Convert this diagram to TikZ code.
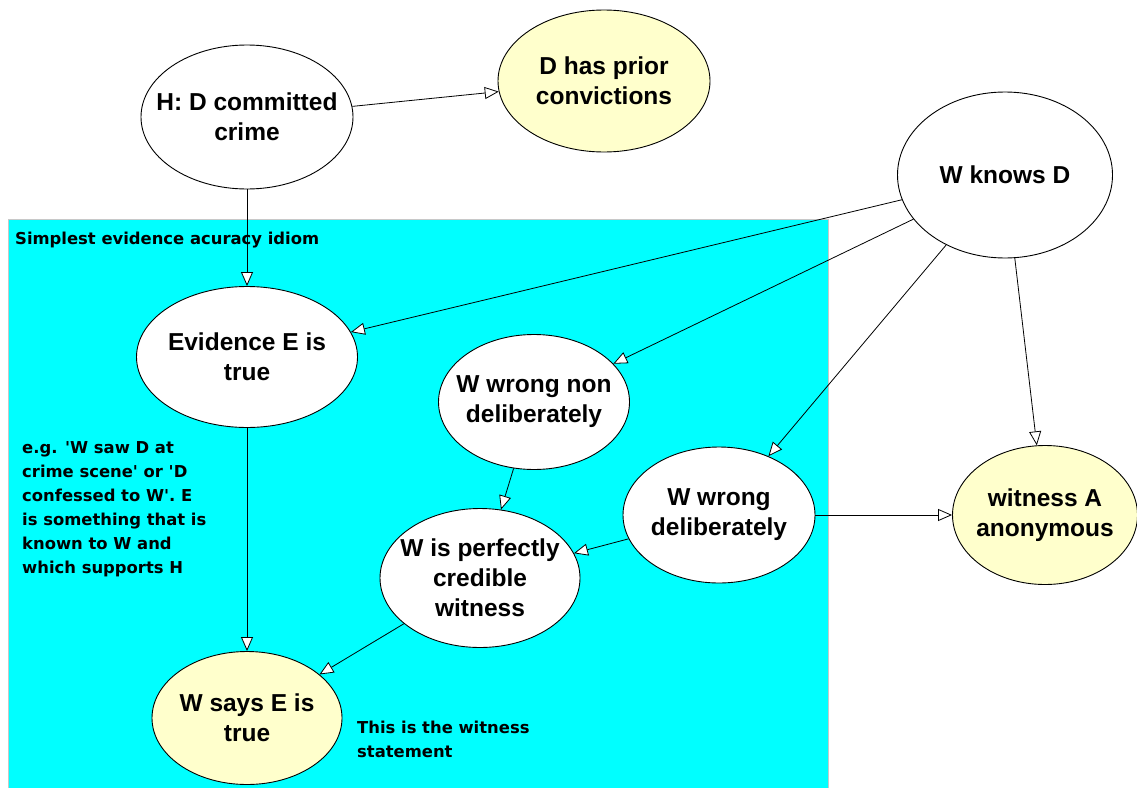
\documentclass[tikz,border=0pt]{standalone}
\usepackage{fontspec}
\setmainfont{Liberation Sans}
\newfontfamily\notefont{DejaVu Sans}[Ligatures=TeXOff]
\usetikzlibrary{shapes.geometric,arrows.meta}
\definecolor{idiombg}{HTML}{00FFFF}
\definecolor{obsfill}{HTML}{FFFFCC}
\definecolor{frameline}{HTML}{C8C8C8}

\begin{document}
\begin{tikzpicture}[x=1pt,y=-1pt,
  bn/.style={ellipse, draw=black, line width=0.9pt, fill=white, inner sep=0pt},
  obs/.style={bn, fill=obsfill},
  lbl/.style={align=center, font=\fontsize{24.5}{30}\selectfont\bfseries, inner sep=0pt},
  note/.style={align=left, font=\notefont\fontsize{16.4}{24}\selectfont\bfseries, inner sep=0pt},
  link/.style={line width=0.8pt, -{Triangle[length=14pt,width=12pt,fill=white]}},
]
\useasboundingbox (0,0) rectangle (1137,787);
\fill[white] (0,0) rectangle (1137,787);

% idiom frame
\draw[frameline, line width=1pt, fill=idiombg] (8,219) rectangle (828,792);

% variables of the network
\node[bn,  minimum width=212pt, minimum height=144pt] (H) at (247,117) {};
\node[obs, minimum width=212pt, minimum height=142pt] (P) at (604,81)  {};
\node[bn,  minimum width=215pt, minimum height=166pt] (K) at (1005,175) {};
\node[bn,  minimum width=221pt, minimum height=141pt] (E) at (247,357) {};
\node[bn,  minimum width=191pt, minimum height=135pt] (N) at (534,402) {};
\node[bn,  minimum width=192pt, minimum height=136pt] (L) at (719,515) {};
\node[bn,  minimum width=200pt, minimum height=139pt] (C) at (480,578) {};
\node[obs, minimum width=190pt, minimum height=133pt] (S) at (247,718) {};
\node[obs, minimum width=185pt, minimum height=139pt] (A) at (1045,515) {};

% dependencies
\draw[link] (H) -- (P);
\draw[link] (H) -- (E);
\draw[link] (K) -- (E);
\draw[link] (K) -- (N);
\draw[link] (K) -- (L);
\draw[link] (K) -- (A);
\draw[link] (N) -- (C);
\draw[link] (L) -- (C);
\draw[link] (L) -- (A);
\draw[link] (E) -- (S);
\draw[link] (C) -- (S);

% variable names
\node[lbl] (Ht) at (H) {H: D committed\\crime};
\node[lbl] (Pt) at (P) {D has prior\\convictions};
\node[lbl] (Kt) at (K) {W knows D};
\node[lbl] (Et) at (E) {Evidence E is\\true};
\node[lbl] (Nt) at (N) {W wrong non\\deliberately};
\node[lbl] (Lt) at (L) {W wrong\\deliberately};
\node[lbl] (Ct) at (C) {W is perfectly\\credible\\witness};
\node[lbl] (St) at (S) {W says E is\\true};
\node[lbl] (At) at (A) {witness A\\anonymous};

% annotations
\node[note, anchor=base west] (title) at (15,244) {Simplest evidence acuracy idiom};
\node[note, anchor=north west] (eg) at (22,441) {e.g. 'W saw D at\\crime scene' or 'D\\confessed to W'. E\\is something that is\\known to W and\\which supports H};
\node[note, anchor=north west] (stmt) at (357,721) {This is the witness\\statement};
\end{tikzpicture}
\end{document}
